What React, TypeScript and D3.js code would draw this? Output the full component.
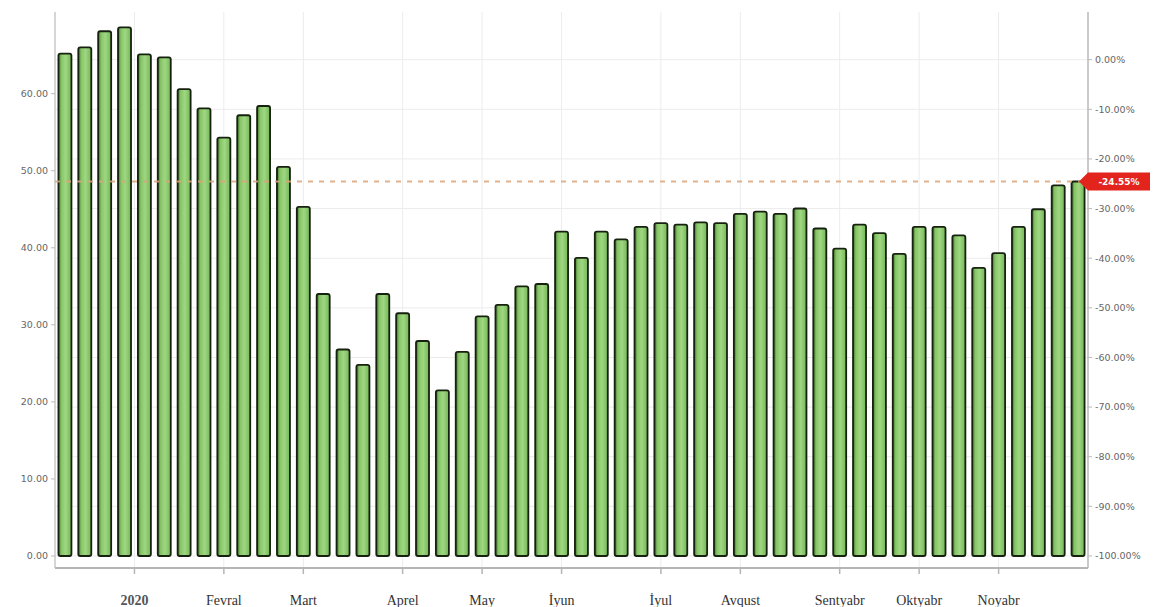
import React from 'react';
import * as d3 from 'd3';

// weekly values
const values = [
  65.2, 66.0, 68.1, 68.6, 65.1, 64.7, 60.6, 58.1, 54.3, 57.2, 58.4, 50.5, 45.3,
  34.0, 26.8, 24.8, 34.0, 31.5, 27.9, 21.5, 26.5, 31.1, 32.6, 35.0, 35.3, 42.1,
  38.7, 42.1, 41.1, 42.7, 43.2, 43.0, 43.3, 43.2, 44.4, 44.7, 44.4, 45.1, 42.5,
  39.9, 43.0, 41.9, 39.2, 42.7, 42.7, 41.6, 37.4, 39.3, 42.7, 45.0, 48.1, 48.6,
];
const monthLabels = ['2020', 'Fevral', 'Mart', 'Aprel', 'May', 'İyun', 'İyul', 'Avqust', 'Sentyabr', 'Oktyabr', 'Noyabr'];
const monthBarIndex = [3.5, 8, 12, 17, 21, 25, 30, 34, 39, 43, 47];
const leftTicks = [0, 10, 20, 30, 40, 50, 60];
const rightTicks = [0, -10, -20, -30, -40, -50, -60, -70, -80, -90, -100];
const baseValue = 64.41;

const W = 1156;
const H = 607;
const plot = { left: 55, right: 1088, top: 12, bottom: 568 };

const App = () => {
  const x = d3.scaleLinear().domain([0, values.length]).range([plot.left, plot.right]);
  const y = d3.scaleLinear().domain([-1.56, 70.6]).range([plot.bottom, plot.top]);
  const yPct = d3.scaleLinear().domain([-100, 0]).range([y(0), y(baseValue)]);
  const step = x(1) - x(0);
  const barW = 13;

  const last = values[values.length - 1];
  const lastY = y(last);
  const lastPct = (last / baseValue - 1) * 100;

  return (
    <svg width={W} height={H} style={{ position: 'absolute', left: 0, top: 0, background: '#fff' }}>
      <defs>
        <linearGradient id="barFill" x1="0" x2="1" y1="0" y2="0">
          <stop offset="0%" stopColor="#3f6e2a" />
          <stop offset="22%" stopColor="#86c466" />
          <stop offset="55%" stopColor="#9fd782" />
          <stop offset="100%" stopColor="#74b656" />
        </linearGradient>
      </defs>

      {/* grid */}
      {rightTicks.map(t => (
        <line key={'hg' + t} x1={plot.left} x2={plot.right} y1={yPct(t)} y2={yPct(t)} stroke="#ececec" strokeWidth={1} />
      ))}
      {monthBarIndex.map((m, i) => (
        <line key={'vg' + i} x1={x(m + 0.5)} x2={x(m + 0.5)} y1={plot.top} y2={plot.bottom} stroke="#ececec" strokeWidth={1} />
      ))}

      {/* axes lines */}
      <line x1={plot.left} x2={plot.left} y1={plot.top} y2={plot.bottom} stroke="#c8c8c8" strokeWidth={1.5} />
      <line x1={plot.right} x2={plot.right} y1={plot.top} y2={plot.bottom} stroke="#b8b8b8" strokeWidth={1.5} />
      <line x1={plot.left} x2={plot.right} y1={plot.bottom} y2={plot.bottom} stroke="#b5b5b5" strokeWidth={2} />

      {/* bars */}
      {values.map((v, i) => {
        const cx = x(i + 0.5);
        return (
          <rect key={'b' + i} x={cx - barW / 2} y={y(v)} width={barW} height={y(0) - y(v)}
            rx={2} fill="url(#barFill)" stroke="#16210f" strokeWidth={1.8} />
        );
      })}

      {/* dashed reference line */}
      <line x1={plot.left} x2={plot.right} y1={lastY} y2={lastY} stroke="#dba57a" strokeWidth={2} strokeDasharray="5,6" opacity={0.85} />

      {/* left axis labels */}
      {leftTicks.map(t => (
        <g key={'l' + t}>
          <line x1={plot.left - 4} x2={plot.left} y1={y(t)} y2={y(t)} stroke="#bbb" />
          <text x={48} y={y(t)} dy="0.35em" textAnchor="end" fontFamily="DejaVu Sans, sans-serif" fontSize={9.5} fill="#666">
            {t.toFixed(2)}
          </text>
        </g>
      ))}

      {/* right axis labels */}
      {rightTicks.map(t => (
        <g key={'r' + t}>
          <line x1={plot.right} x2={plot.right + 4} y1={yPct(t)} y2={yPct(t)} stroke="#bbb" />
          <text x={1095} y={yPct(t)} dy="0.35em" textAnchor="start" fontFamily="DejaVu Sans, sans-serif" fontSize={9.5} fill="#666">
            {t.toFixed(2)}%
          </text>
        </g>
      ))}

      {/* bottom month ticks */}
      {monthBarIndex.map((m, i) => (
        <g key={'m' + i}>
          <line x1={x(m + 0.5)} x2={x(m + 0.5)} y1={plot.bottom} y2={plot.bottom + 6} stroke="#b5b5b5" strokeWidth={1.5} />
          <text x={x(m + 0.5)} y={605} textAnchor="middle" fontFamily="Liberation Serif, serif"
            fontSize={14} fontWeight={i === 0 ? 'bold' : 'normal'} fill={i === 0 ? '#555' : '#333'}>
            {monthLabels[i]}
          </text>
        </g>
      ))}

      {/* last value marker */}
      <polygon
        points={`${plot.right - 9},${lastY} ${plot.right},${lastY - 9} ${1150},${lastY - 9} ${1150},${lastY + 9} ${plot.right},${lastY + 9}`}
        fill="#e3241c" />
      <text x={1119} y={lastY} dy="0.35em" textAnchor="middle" fontFamily="DejaVu Sans, sans-serif" fontSize={9} fontWeight="bold" fill="#fff">
        {lastPct.toFixed(2)}%
      </text>
    </svg>
  );
};

export default App;
